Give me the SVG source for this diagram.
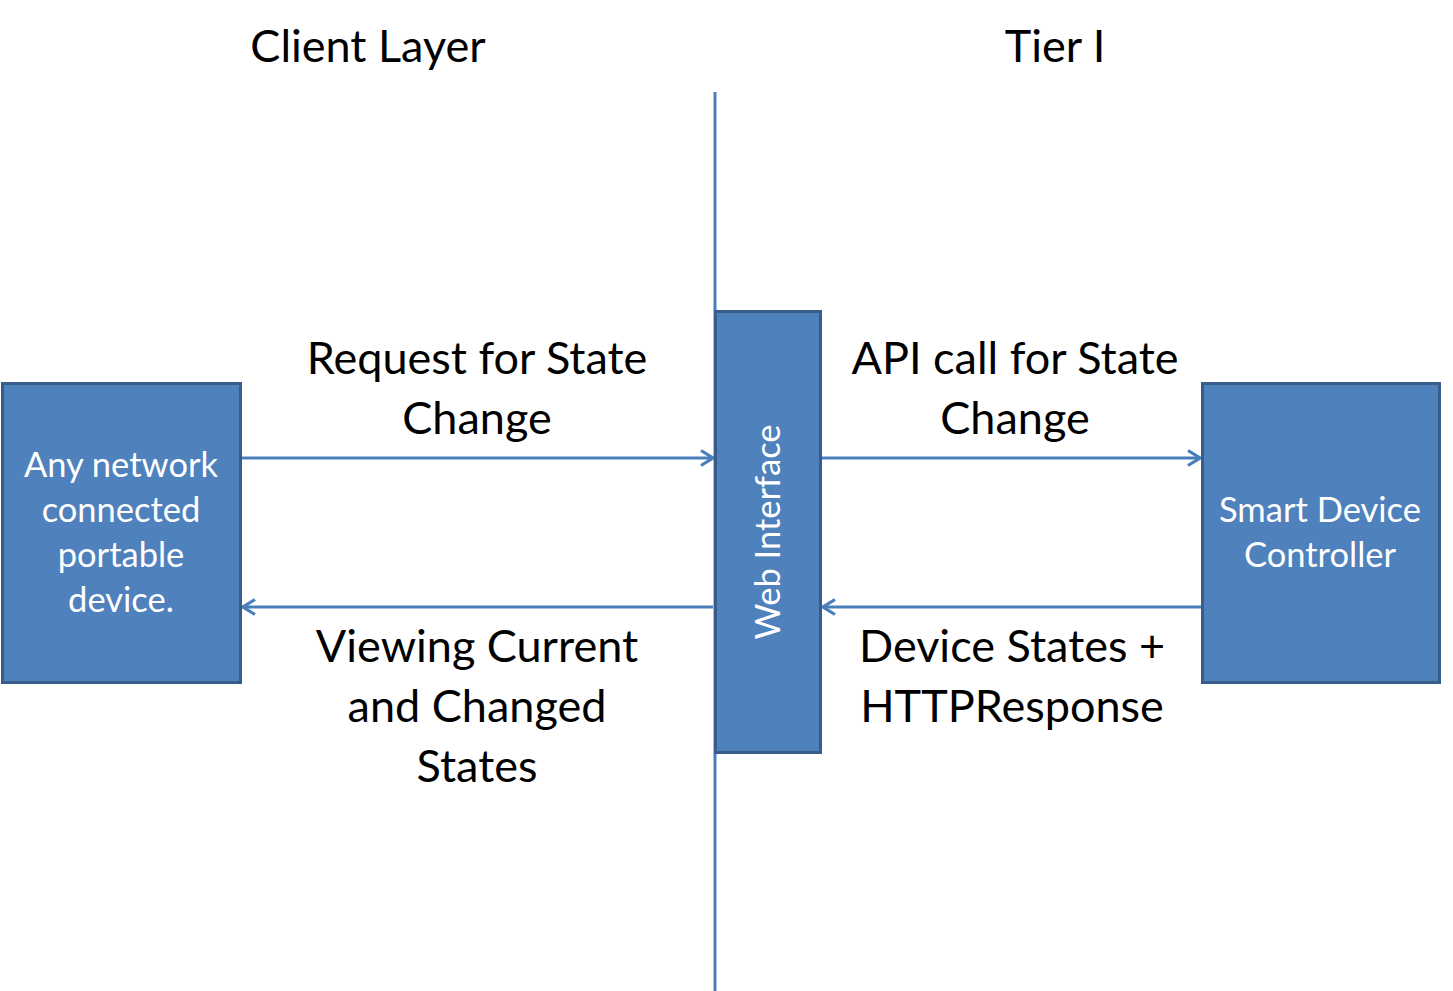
<svg xmlns="http://www.w3.org/2000/svg" width="1453" height="991" viewBox="0 0 1453 991">
<defs>
<style>
.box{fill:#4F81BD;stroke:#385D8A;stroke-width:3}
.conn{stroke:#4A7EBB;stroke-width:3;fill:none}
.lbl{font-family:Lato,"Liberation Sans",sans-serif;font-size:45px;fill:#000;text-anchor:middle}
.in{font-family:Lato,"Liberation Sans",sans-serif;font-size:34.5px;fill:#fff;text-anchor:middle}
</style>
<marker id="ah" viewBox="0 0 16 18" refX="14" refY="9" markerWidth="16" markerHeight="18" markerUnits="userSpaceOnUse" orient="auto">
<path d="M2,1.5 L14,9 L2,16.5" fill="none" stroke="#4A7EBB" stroke-width="3.2"/>
</marker>
</defs>
<rect width="1453" height="991" fill="#fff"/>
<text class="lbl" x="368" y="62">Client Layer</text>
<text class="lbl" x="1055" y="62">Tier I</text>
<g id="connectors">
<line class="conn" x1="715" y1="92" x2="715" y2="991"/>
<line class="conn" x1="241" y1="458" x2="713" y2="458" marker-end="url(#ah)"/>
<line class="conn" x1="713" y1="607" x2="243" y2="607" marker-end="url(#ah)"/>
<line class="conn" x1="821" y1="458" x2="1200" y2="458" marker-end="url(#ah)"/>
<line class="conn" x1="1202" y1="607" x2="823" y2="607" marker-end="url(#ah)"/>
<text class="lbl" x="477" y="374">Request for State</text>
<text class="lbl" x="477" y="434">Change</text>
<text class="lbl" x="477" y="662">Viewing Current</text>
<text class="lbl" x="477" y="722">and Changed</text>
<text class="lbl" x="477" y="782">States</text>
<text class="lbl" x="1015" y="374">API call for State</text>
<text class="lbl" x="1015" y="434">Change</text>
<text class="lbl" x="1012" y="662">Device States +</text>
<text class="lbl" x="1012" y="722">HTTPResponse</text>
</g>
<g id="client">
<rect class="box" x="2.5" y="383.5" width="238" height="299"/>
<text class="in" x="121" y="477">Any network</text>
<text class="in" x="121" y="522">connected</text>
<text class="in" x="121" y="567">portable</text>
<text class="in" x="121" y="612">device.</text>
</g>
<g id="web">
<rect class="box" x="715.5" y="311.5" width="105" height="441"/>
<text class="in" transform="translate(780,532) rotate(-90)" x="0" y="0">Web Interface</text>
</g>
<g id="controller">
<rect class="box" x="1202.5" y="383.5" width="237" height="299"/>
<text class="in" x="1320" y="522">Smart Device</text>
<text class="in" x="1320" y="567">Controller</text>
</g>
</svg>
